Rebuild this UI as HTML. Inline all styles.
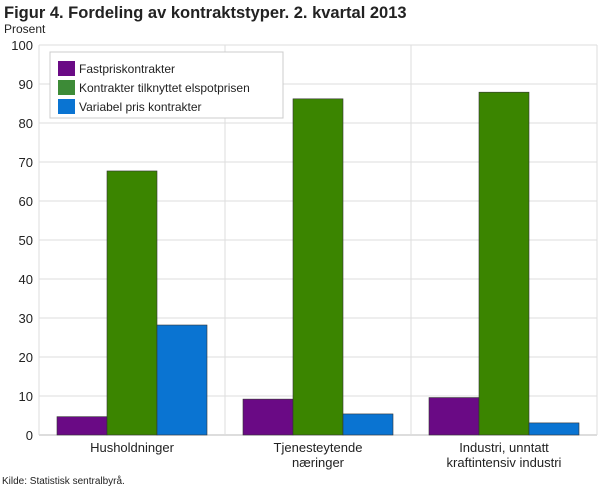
<!DOCTYPE html>
<html><head><meta charset="utf-8"><style>
body{margin:0;background:#fff;font-family:"Liberation Sans",sans-serif}
svg text{font-family:"Liberation Sans",sans-serif}
</style></head><body>
<svg width="610" height="488">
<text x="4" y="18" font-size="16.5" font-weight="bold" fill="#222">Figur 4. Fordeling av kontraktstyper. 2. kvartal 2013</text>
<text x="4" y="33" font-size="12" fill="#222">Prosent</text>
<g id="grid"></g><g id="bars"></g><g id="labels"></g>
<g>
<rect x="50" y="52" width="233" height="66" fill="#fff" stroke="#ccc"/>
<rect x="58" y="61" width="17" height="15" fill="#6a0a85"/><text x="79" y="73" font-size="12" fill="#222">Fastpriskontrakter</text>
<rect x="58" y="80" width="17" height="15" fill="#3d8b37"/><text x="79" y="92" font-size="12" fill="#222">Kontrakter tilknyttet elspotprisen</text>
<rect x="58" y="99" width="17" height="15" fill="#0a74d2"/><text x="79" y="111" font-size="12" fill="#222">Variabel pris kontrakter</text>
</g>
<text x="2" y="484" font-size="10" fill="#222">Kilde: Statistisk sentralbyrå.</text>
</svg>
<script>
const categories=[["Husholdninger"],["Tjenesteytende","næringer"],["Industri, unntatt","kraftintensiv industri"]];
const seriesNames=["Fastpriskontrakter","Kontrakter tilknyttet elspotprisen","Variabel pris kontrakter"];
const fastpris=[4.7,9.2,9.6];
const elspot=[67.7,86.2,87.9];
const variabel=[28.2,5.4,3.1];
const yTicks=[0,10,20,30,40,50,60,70,80,90,100];
const colors=["#6a0a85","#3b8500","#0a74d2"];
const L=39,R=597,T=45,B=435,NS="http://www.w3.org/2000/svg";
const y=v=>B-(v/100)*(B-T);
const gw=(R-L)/categories.length;
const x=(i,s)=>L+i*gw+18+s*50;
function mk(p,tag,a){const e=document.createElementNS(NS,tag);for(const k in a)e.setAttribute(k,a[k]);document.getElementById(p).appendChild(e);return e;}
yTicks.forEach(t=>{
 const l=mk("grid","line",{x1:L,x2:R,y1:y(t),y2:y(t),stroke:t===0?"#bbb":"#ddd"});
 
 
 const tx=mk("labels","text",{x:33,y:y(t)+5,"text-anchor":"end","font-size":"13",fill:"#222"});
 tx.textContent=t;
 
 
});
for(let i=0;i<=categories.length;i++){
 const l=mk("grid","line",{x1:L+i*gw,x2:L+i*gw,y1:T,y2:B,stroke:"#ddd"});
 
 
}
[fastpris,elspot,variabel].forEach((ser,s)=>ser.forEach((v,i)=>{
 const r=mk("bars","rect",{x:x(i,s),y:y(v),width:50,height:B-y(v),fill:colors[s],stroke:"#333","stroke-width":"0.6"});
 
 
}));
categories.forEach((c,i)=>c.forEach((ln,j)=>{
 const tx=mk("labels","text",{x:L+i*gw+gw/2,y:452+j*15,"text-anchor":"middle","font-size":"13",fill:"#222"});
 tx.textContent=ln;
 
 
}));
</script>
</body></html>
